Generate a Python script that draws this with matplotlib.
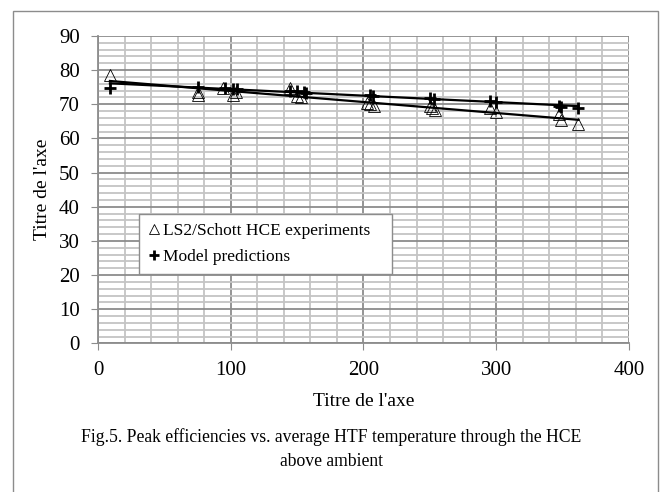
import numpy as np
import matplotlib
matplotlib.use("Agg")
import matplotlib.pyplot as plt
from matplotlib.ticker import MultipleLocator
from matplotlib.lines import Line2D
from matplotlib.patches import Rectangle

plt.rcParams["font.family"] = ["Liberation Serif", "DejaVu Serif"]

# LS2/Schott HCE experiments (temperature above ambient, peak efficiency %)
exp_x = [9, 75, 75, 94, 102, 104, 145, 150, 153, 203, 205, 208,
         250, 252, 254, 295, 300, 347, 349, 362]
exp_y = [78.5, 73.5, 72.8, 74.9, 72.7, 73.5, 74.9, 72.4, 72.2, 70.5, 70.0, 69.6,
         69.5, 68.8, 68.3, 68.8, 67.6, 67.2, 65.5, 64.2]

# Model predictions
mod_x = [9, 75, 96, 102, 104.5, 145, 150, 155, 157, 205, 207.5,
         250, 253, 295.5, 300, 347, 349, 362]
mod_y = [74.8, 75.0, 74.7, 74.6, 74.5, 74.0, 73.8, 73.5, 73.3, 72.6, 72.5,
         71.7, 71.5, 71.0, 70.8, 69.5, 69.3, 68.9]

x_label = "Titre de l'axe"
y_label = "Titre de l'axe"
caption = ("Fig.5. Peak efficiencies vs. average HTF temperature through the HCE\n"
           "above ambient")

fig = plt.figure(figsize=(6.62, 4.92), dpi=100)
# outer chart frame (open at the bottom)
fig.add_artist(Rectangle((12.5 / 662, -0.05), 645 / 662, 1.05 - 11 / 492,
                         transform=fig.transFigure, fill=False,
                         edgecolor="#8c8c8c", linewidth=1.0))

ax = fig.add_axes([0.148, 0.302, 0.802, 0.625])

ax.plot(exp_x, exp_y, linestyle="none", marker="^", markersize=8.5,
        markerfacecolor="none", markeredgecolor="black", markeredgewidth=0.6, zorder=3)
ax.plot(mod_x, mod_y, linestyle="none", marker="+", markersize=9,
        markeredgecolor="black", markeredgewidth=2.0, zorder=3)

# linear trend lines
for xs, ys in [(exp_x, exp_y), (mod_x, mod_y)]:
    k, b = np.polyfit(xs, ys, 1)
    xx = np.array([min(xs), max(xs)])
    ax.plot(xx, k * xx + b, color="black", linewidth=1.6, zorder=4)

ax.set_xlim(0, 400)
ax.set_ylim(0, 90)
ax.xaxis.set_major_locator(MultipleLocator(100))
ax.xaxis.set_minor_locator(MultipleLocator(20))
ax.yaxis.set_major_locator(MultipleLocator(10))
ax.yaxis.set_minor_locator(MultipleLocator(2))
ax.grid(which="minor", color="#c4c4c4", linewidth=1.3)
ax.grid(which="major", color="#8c8c8c", linewidth=1.3)
ax.set_axisbelow(True)
for side in ["top", "right"]:
    ax.spines[side].set_visible(False)
for side in ["left", "bottom"]:
    ax.spines[side].set_color("#8c8c8c")
    ax.spines[side].set_linewidth(1.3)
ax.tick_params(which="major", direction="out", length=5, color="#8c8c8c",
               labelsize=15, pad=8)
ax.tick_params(which="minor", length=0)

ax.set_xlabel(x_label, fontsize=14, labelpad=9)
ax.set_ylabel(y_label, fontsize=14, labelpad=6)

handles = [Line2D([], [], linestyle="none", marker="^", markersize=7.5,
                  markerfacecolor="none", markeredgecolor="black", markeredgewidth=0.6),
           Line2D([], [], linestyle="none", marker="+", markersize=7.5,
                  markeredgecolor="black", markeredgewidth=2.0)]
leg = ax.legend(handles, ["LS2/Schott HCE experiments   ", "Model predictions"],
                loc="upper left", bbox_to_anchor=(139 / 662, 1 - 214 / 492),
                bbox_transform=fig.transFigure, fontsize=12.5, frameon=True,
                fancybox=False, framealpha=1, edgecolor="#8c8c8c",
                handlelength=0.7, handletextpad=0.2, borderpad=0.5,
                labelspacing=0.6, borderaxespad=0)
leg.get_frame().set_linewidth(1.0)

fig.text(0.5, 1 - 449 / 492, caption, ha="center", va="center",
         fontsize=12.7, linespacing=1.55)

fig.savefig("out.png", dpi=100)
